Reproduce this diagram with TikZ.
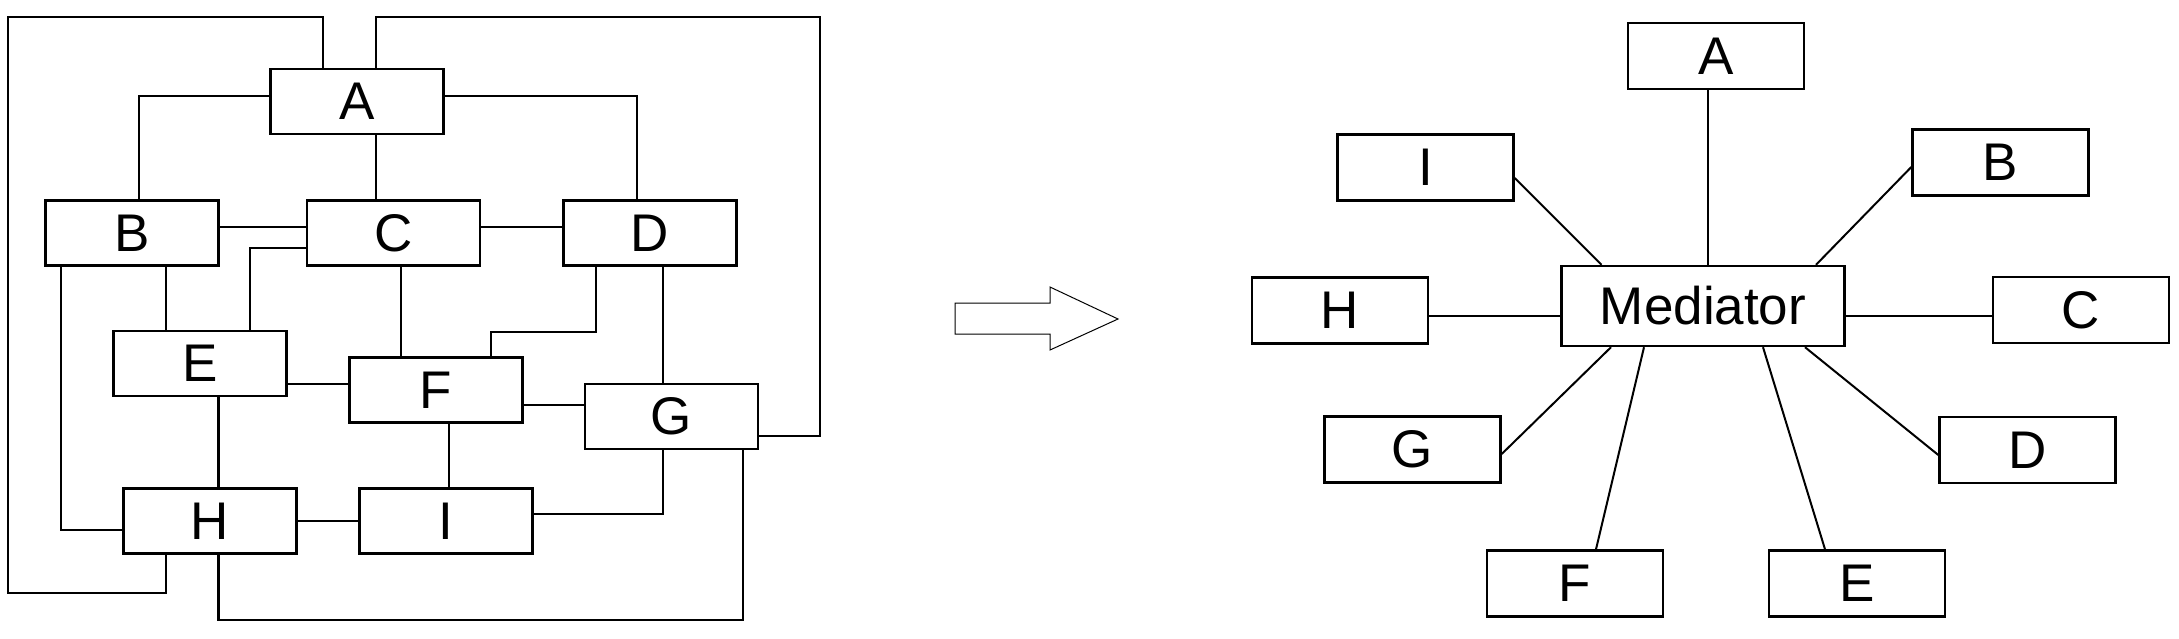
\documentclass[tikz,border=0pt]{standalone}
\usepackage{fontspec}
\setmainfont{Liberation Sans}
\usepackage{tikz}
\usetikzlibrary{positioning}

\begin{document}
\begin{tikzpicture}[x=1pt, y=-1pt, line width=2.4pt,
  box/.style={draw, minimum width=173pt, minimum height=65pt, inner sep=0pt,
    font=\fontsize{53}{60}\selectfont},
  rbox/.style={box, minimum width=176pt, minimum height=66pt},
  spoke/.style={line width=2pt}]
\useasboundingbox (0,0) rectangle (2179,638);
% left: every colleague talks to the others
% row 1
\node[box] (A) at (357,101.5) {A};
% row 2
\node[box] (B) at (132,233) {B};
\node[box] (C) at (393.5,233) {C};
\node[box] (D) at (650,233) {D};
% row 3
\node[box] (E) at (200,363.5) {E};
\node[box] (F) at (436,390) {F};
\node[box] (G) at (671.5,416.5) {G};
% row 4
\node[box] (H) at (210,521) {H};
\node[box] (I) at (446,521) {I};

\coordinate (lt) at (8,17);
\coordinate (lb) at (8,593);
\coordinate (rt) at (820,17);

\draw ([xshift=-34pt]A.north) |- (lt) -- (lb) -| ([xshift=-44pt]H.south);
\draw ([xshift=19pt]A.north) |- (rt) |- ([yshift=-19.5pt]G.east);
\draw ([yshift=5.5pt]A.west) -| ([xshift=7pt]B.north);
\draw ([yshift=5.5pt]A.east) -| ([xshift=-13pt]D.north);
\draw ([xshift=19pt]A.south) -- ([xshift=19pt]A.south |- C.north);
\draw ([yshift=6pt]B.east) -- ([yshift=6pt]C.west);
\draw ([yshift=6pt]C.east) -- ([yshift=6pt]D.west);
\draw ([yshift=-15pt]C.west) -| ([xshift=50pt]E.north);
\draw ([xshift=34pt]B.south) -- ([xshift=34pt]B.south |- E.north);
\draw ([xshift=-71pt]B.south) |- ([yshift=-9pt]H.west);
\draw ([xshift=7.5pt]C.south) -- ([xshift=7.5pt]C.south |- F.north);
\draw ([xshift=-54pt]D.south) -- ++(0,65) -| ([xshift=55pt]F.north);
\draw ([xshift=13pt]D.south) -- ([xshift=13pt]D.south |- G.north);
\draw ([yshift=-20.5pt]E.east) -- ([yshift=-20.5pt]E.east -| F.west);
\draw ([yshift=-15pt]F.east) -- ([yshift=-15pt]F.east -| G.west);
\draw ([xshift=18.5pt]E.south) -- ([xshift=18.5pt]E.south |- H.north);
\draw ([xshift=13pt]F.south) -- ([xshift=13pt]F.south |- I.north);
\draw (H.east) -- (I.west);
\draw ([yshift=7pt]I.east) -| ([xshift=-8.5pt]G.south);
\draw ([xshift=8.5pt]H.south) -- ++(0,65) -| ([xshift=71.5pt]G.south);

% arrow
\draw[line width=1pt, line join=miter] (955,303) -- (1050,303) -- (1050,287)
  -- (1118,319) -- (1050,350) -- (1050,334) -- (955,334) -- cycle;

% right: everyone goes through the mediator
\node[box, minimum width=283pt, minimum height=80pt] (M) at (1703,306) {Mediator};
\node[rbox] (rA) at (1716,56) {A};
\node[rbox] (rI) at (1425.5,167.5) {I};
\node[rbox] (rB) at (2000.5,162.5) {B};
\node[rbox] (rH) at (1340,310.5) {H};
\node[rbox] (rC) at (2081,310) {C};
\node[rbox] (rG) at (1412.5,449.5) {G};
\node[rbox] (rD) at (2027.5,450) {D};
\node[rbox] (rF) at (1575,583.5) {F};
\node[rbox] (rE) at (1857,583.5) {E};

\draw[spoke] ([xshift=-8pt]rA.south) -- ([xshift=-8pt]rA.south |- M.north);
\draw[spoke] ([yshift=-10.5pt]rI.east) -- ([xshift=-101.5pt]M.north);
\draw[spoke] ([yshift=-4.5pt]rB.west) -- ([xshift=113pt]M.north);
\draw[spoke] ([yshift=-5.5pt]rH.east) -- ([yshift=-5.5pt]rH.east -| M.west);
\draw[spoke] ([yshift=-6pt]rC.west) -- ([yshift=-6pt]rC.west -| M.east);
\draw[spoke] ([yshift=-4.5pt]rG.east) -- ([xshift=-92pt]M.south);
\draw[spoke] ([xshift=21pt]rF.north) -- ([xshift=-59pt]M.south);
\draw[spoke] ([xshift=-32pt]rE.north) -- ([xshift=60pt]M.south);
\draw[spoke] ([yshift=-5pt]rD.west) -- ([xshift=102pt]M.south);
\end{tikzpicture}
\end{document}
